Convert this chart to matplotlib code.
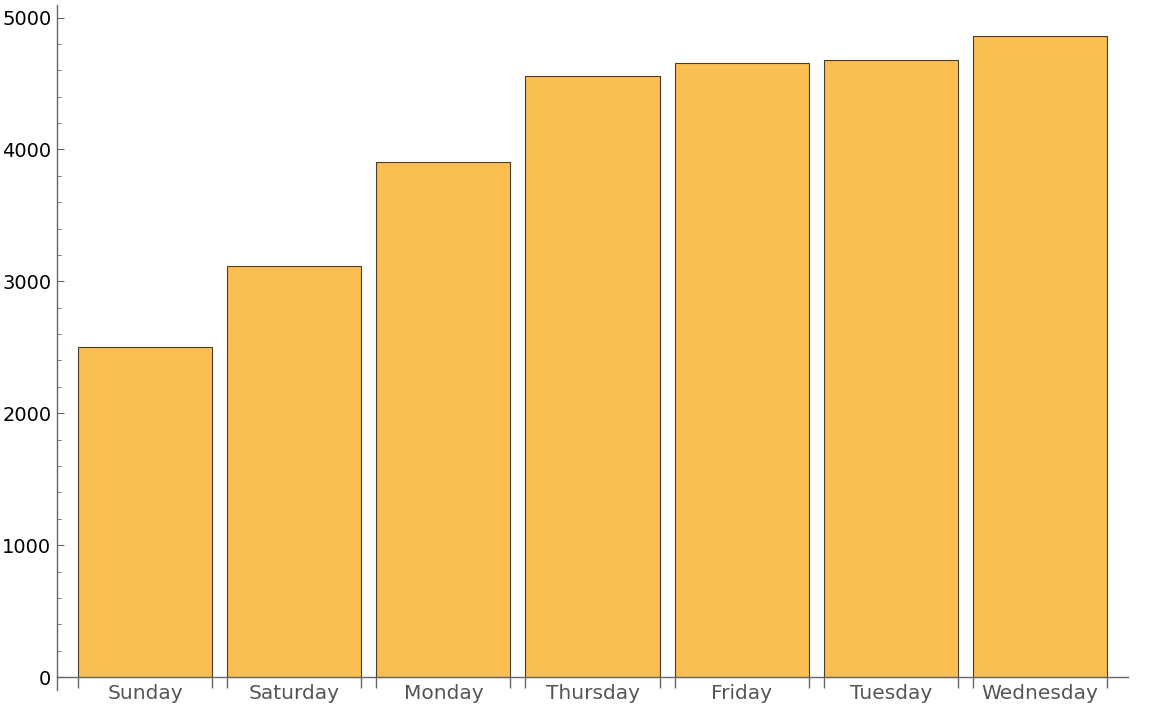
import matplotlib.pyplot as plt
import numpy as np
from matplotlib.ticker import FixedLocator, MultipleLocator

days = ["Sunday", "Saturday", "Monday", "Thursday", "Friday", "Tuesday", "Wednesday"]
counts = [2502, 3116, 3904, 4557, 4655, 4678, 4860]

bar_width = 0.9
x = np.arange(len(days))

fig = plt.figure(figsize=(11.52, 7.06), dpi=100)
ax = fig.add_axes([57 / 1152, 1 - 690 / 706, (1128 - 57) / 1152, (690 - 5) / 706])

ax.bar(x, counts, width=bar_width, color="#fbbe53", edgecolor="#4d3d26", linewidth=0.8)

ax.set_xlim(-0.59, len(days) - 1 + 0.59)
ax.set_ylim(-98, 5095)

for side in ["top", "right"]:
    ax.spines[side].set_visible(False)
ax.spines["bottom"].set_position(("data", 0))
for side in ["left", "bottom"]:
    ax.spines[side].set_color("#666666")
    ax.spines[side].set_linewidth(1.0)

# bar edges get tick marks, labels sit at the bar centres
edges = np.sort(np.concatenate([x - bar_width / 2, x + bar_width / 2]))
ax.xaxis.set_major_locator(FixedLocator(edges))
ax.xaxis.set_minor_locator(FixedLocator(x))
ax.set_xticklabels([], minor=False)
ax.set_xticklabels(days, minor=True)
ax.tick_params(axis="x", which="major", direction="out", length=8, color="#666666", width=1)
ax.tick_params(axis="x", which="minor", length=0, pad=5, labelsize=14.5, labelcolor="#555555")

ax.yaxis.set_major_locator(MultipleLocator(1000))
ax.yaxis.set_minor_locator(MultipleLocator(200))
ax.tick_params(axis="y", which="major", direction="in", length=5, color="#666666",
               labelsize=14, labelcolor="black", pad=4)
ax.tick_params(axis="y", which="minor", direction="in", length=3, color="#666666")

fig.savefig("out.png", dpi=100)
